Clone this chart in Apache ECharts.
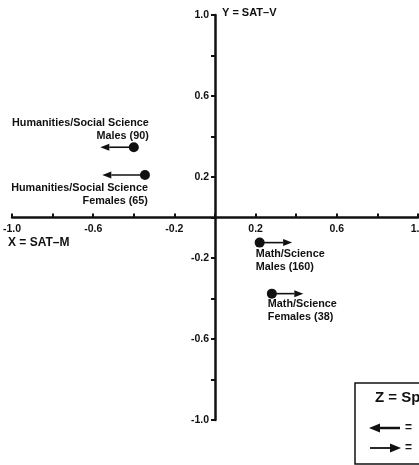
<!DOCTYPE html>
<html>
<head>
<meta charset="utf-8">
<script src="https://cdn.jsdelivr.net/npm/echarts@6/dist/echarts.min.js"></script>
<style>
html,body{margin:0;padding:0;background:#fff;}
#chart{width:419px;height:465px;}
</style>
</head>
<body>
<div id="chart"></div>
<script>
// ---- data ----
const groups = [
  'Humanities/Social Science\nMales (90)',
  'Humanities/Social Science\nFemales (65)',
  'Math/Science\nMales (160)',
  'Math/Science\nFemales (38)'
];
const satM = [-0.40, -0.345, 0.22, 0.28];     // X = SAT-M
const satV = [0.347, 0.21, -0.124, -0.376];   // Y = SAT-V
const spatialArrowEnd = [-0.565, -0.555, 0.38, 0.435]; // Z = Spatial (arrow direction)
const axisTicks = [-1.0, -0.6, -0.2, 0.2, 0.6, 1.0];

// ---- styling (label placement relative to each dot) ----
const labelPlace = [
  {dx: 15, dy: -5, align: 'right', va: 'bottom'},
  {dx: 3, dy: 7, align: 'right', va: 'top'},
  {dx: -4, dy: 5, align: 'left', va: 'top'},
  {dx: -4, dy: 4, align: 'left', va: 'top'}
];

const FONT = '"Liberation Sans", Arial, sans-serif';
const W = 419, H = 465;
const G = {left: 12, right: 1, top: 15, bottom: 45};
const gw = W - G.left - G.right, gh = H - G.top - G.bottom;

const chart = echarts.init(document.getElementById('chart'));

function tickFmt(v) {
  for (const t of axisTicks) if (Math.abs(t - v) < 1e-6) return t.toFixed(1);
  return '';
}

const labelStyle = {formatter: tickFmt, color: '#111', fontFamily: FONT, fontWeight: 'bold', fontSize: 10.5,
  showMinLabel: true, showMaxLabel: true, margin: 6, hideOverlap: false};

const data = satM.map((x, i) => [x, satV[i], spatialArrowEnd[i]]);

chart.setOption({
  animation: false,
  backgroundColor: '#fff',
  grid: Object.assign({containLabel: false, outerBoundsMode: 'none'}, G),
  xAxis: {
    type: 'value', min: -1, max: 1, interval: 0.2,
    position: 'bottom', offset: -gh / 2,
    axisLine: {onZero: false, lineStyle: {color: '#111', width: 2.5}},
    splitLine: {show: false},
    axisTick: {inside: true, length: 4, lineStyle: {color: '#111', width: 2}},
    axisLabel: labelStyle
  },
  yAxis: {
    type: 'value', min: -1, max: 1, interval: 0.2,
    position: 'left', offset: -gw / 2,
    axisLine: {onZero: false, lineStyle: {color: '#111', width: 2.5}},
    splitLine: {show: false},
    axisTick: {inside: false, length: 4, lineStyle: {color: '#111', width: 2}},
    axisLabel: labelStyle
  },
  series: [{
    type: 'custom',
    data: data,
    encode: {x: [0, 2], y: 1},
    clip: false,
    renderItem: function (params, api) {
      const i = params.dataIndex;
      const p = api.coord([api.value(0), api.value(1)]);
      const e = api.coord([api.value(2), api.value(1)]);
      const dir = Math.sign(e[0] - p[0]);
      const hl = 9, hw = 3.5;
      const lp = labelPlace[i];
      return {
        type: 'group',
        children: [
          {type: 'line', shape: {x1: p[0], y1: p[1], x2: e[0] - dir * hl, y2: e[1]},
           style: {stroke: '#111', lineWidth: 1.6}},
          {type: 'polygon', shape: {points: [[e[0], e[1]], [e[0] - dir * hl, e[1] - hw], [e[0] - dir * hl, e[1] + hw]]},
           style: {fill: '#111'}},
          {type: 'circle', shape: {cx: p[0], cy: p[1], r: 5}, style: {fill: '#111'}},
          {type: 'text', x: p[0] + lp.dx, y: p[1] + lp.dy,
           style: {text: groups[i], fill: '#111', font: 'bold 10.8px ' + FONT, lineHeight: 13,
                   align: lp.align, verticalAlign: lp.va}}
        ]
      };
    }
  }],
  graphic: [
    {type: 'text', left: 8, top: 237, style: {text: 'X = SAT\u2013M', fill: '#111', font: 'bold 12px ' + FONT}},
    {type: 'text', left: 222, top: 7, style: {text: 'Y = SAT\u2013V', fill: '#111', font: 'bold 11px ' + FONT}},
    {type: 'rect', shape: {x: 355, y: 383, width: 120, height: 81},
     style: {fill: '#fff', stroke: '#111', lineWidth: 1.5}},
    {type: 'text', x: 375, y: 398, style: {text: 'Z = Spatial', fill: '#111', font: 'bold 15px ' + FONT, verticalAlign: 'middle'}},
    {type: 'line', shape: {x1: 378, y1: 428, x2: 400, y2: 428}, style: {stroke: '#111', lineWidth: 2.5}},
    {type: 'polygon', shape: {points: [[369, 428], [380, 423.5], [380, 432.5]]}, style: {fill: '#111'}},
    {type: 'text', x: 405, y: 428, style: {text: '=', fill: '#111', font: 'bold 12px ' + FONT, verticalAlign: 'middle'}},
    {type: 'line', shape: {x1: 370, y1: 448, x2: 392, y2: 448}, style: {stroke: '#111', lineWidth: 1.8}},
    {type: 'polygon', shape: {points: [[401, 448], [390, 443.5], [390, 452.5]]}, style: {fill: '#111'}},
    {type: 'text', x: 405, y: 448, style: {text: '=', fill: '#111', font: 'bold 12px ' + FONT, verticalAlign: 'middle'}}
  ]
});
</script>
</body>
</html>
